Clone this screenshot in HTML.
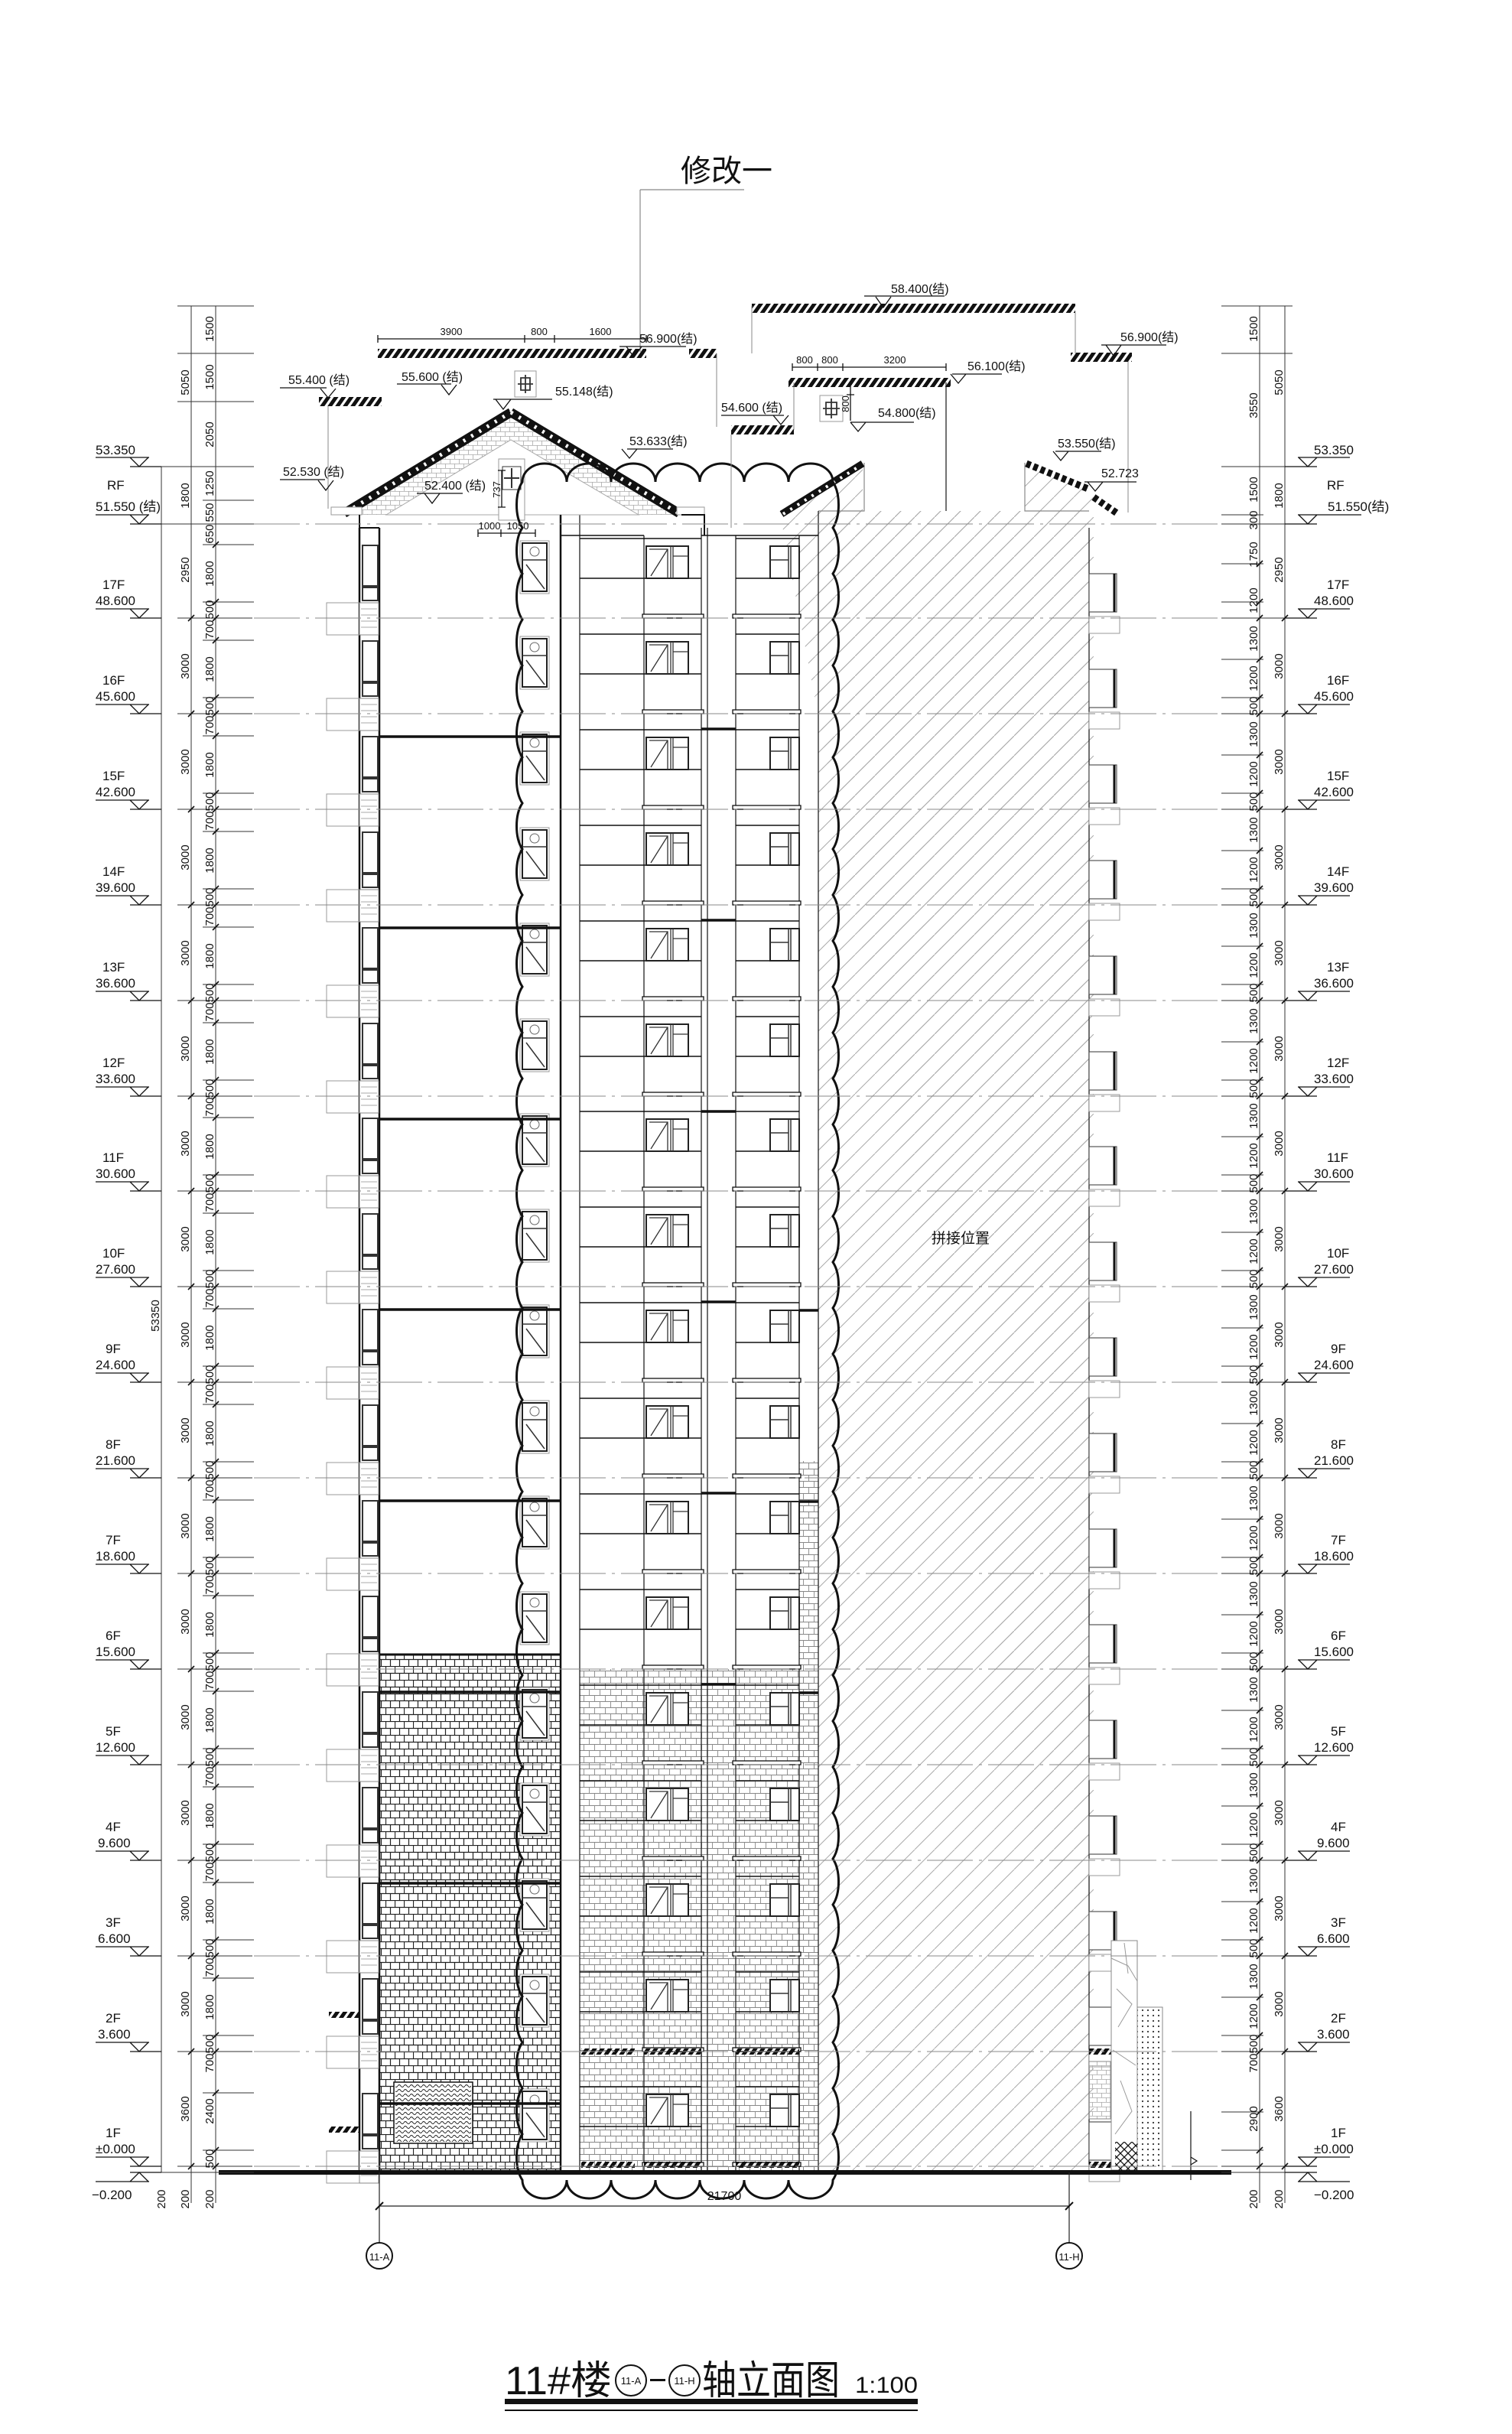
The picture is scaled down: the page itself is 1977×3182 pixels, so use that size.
<!DOCTYPE html>
<html><head><meta charset="utf-8">
<style>
html,body{margin:0;padding:0;background:#fff;}
svg{display:block;}
text{font-family:"Liberation Sans","Noto Sans CJK SC",sans-serif;fill:#111;}
.d{font-size:15px;text-anchor:middle;}
.lv{font-size:17px;}
.lvr{font-size:17px;}
</style></head>
<body>
<svg xmlns="http://www.w3.org/2000/svg" xmlns:xlink="http://www.w3.org/1999/xlink" width="1977" height="3182" viewBox="0 0 1977 3182">
<defs>
<pattern id="hatch" width="26" height="26" patternUnits="userSpaceOnUse"><path d="M0,26 L26,0" stroke="#aaa" stroke-width="1"/></pattern>
<pattern id="brk" width="12" height="18" patternUnits="userSpaceOnUse"><path d="M0,0.5H12M0,9.5H12M0.5,0V9M6.5,9V18" stroke="#222" stroke-width="1.2" fill="none"/></pattern>
<pattern id="brk2" width="14" height="16" patternUnits="userSpaceOnUse"><path d="M0,0.5H14M0,8.5H14M0.5,0V8M7.5,8V16" stroke="#888" stroke-width="0.9" fill="none"/></pattern>
<pattern id="brk3" width="12" height="12" patternUnits="userSpaceOnUse"><path d="M0,0.5H12M0,6.5H12M0.5,0V6M6.5,6V12" stroke="#aaa" stroke-width="0.8" fill="none"/></pattern>
<pattern id="hb" width="10" height="12" patternUnits="userSpaceOnUse" patternTransform="skewX(-35)"><rect width="6" height="12" fill="#111"/></pattern>
<pattern id="dots" width="7" height="7" patternUnits="userSpaceOnUse"><circle cx="3" cy="3" r="1.1" fill="#333"/></pattern>
<pattern id="wav" width="8" height="6" patternUnits="userSpaceOnUse"><path d="M0,3 Q2,0 4,3 T8,3" stroke="#222" fill="none" stroke-width="1"/></pattern>
<pattern id="xx" width="10" height="10" patternUnits="userSpaceOnUse"><path d="M0,0L10,10M10,0L0,10" stroke="#111" stroke-width="1.3"/></pattern>
<g id="fl">
  <rect x="427" y="-20" width="43" height="42" fill="none" stroke="#999" stroke-width="1"/>
  <rect x="470" y="-20" width="25" height="42" fill="#fff" stroke="#888" stroke-width="1"/>
  <path d="M472,-12H493M472,-4H493M472,4H493M472,12H493" stroke="#aaa" stroke-width="1"/>
  <rect x="474" y="-95" width="20" height="53" fill="#fff" stroke="#333" stroke-width="2"/>
  <rect x="474" y="-40" width="20" height="17" fill="#fff" stroke="#333" stroke-width="2"/>
  <rect x="680" y="-101" width="38" height="69" fill="#fff" stroke="#999" stroke-width="1"/>
  <rect x="683" y="-98" width="32" height="63" fill="#fff" stroke="#222" stroke-width="2"/>
  <path d="M683,-76H715M688,-70L712,-38" stroke="#333" stroke-width="1.5"/>
  <circle cx="699" cy="-87" r="6" fill="none" stroke="#666"/>
  <path d="M758,-104H917M758,-52H917M962,-104H1045M962,-52H1045" stroke="#111" stroke-width="1.5"/>
  <rect x="840" y="-5" width="80" height="5" fill="#fff" stroke="#111" stroke-width="1.3"/>
  <rect x="958" y="-5" width="89" height="5" fill="#fff" stroke="#111" stroke-width="1.3"/>
  <rect x="845" y="-94" width="55" height="42" fill="#fff" stroke="#222" stroke-width="2"/>
  <path d="M877,-94V-52M880,-94V-52M880,-81H900M849,-90H873V-52M873,-90L851,-55" stroke="#333" stroke-width="1.3" fill="none"/>
  <rect x="1007" y="-94" width="38" height="42" fill="#fff" stroke="#222" stroke-width="2"/>
  <path d="M1031,-94V-52M1034,-94V-52M1007,-76H1031" stroke="#333" stroke-width="1.5"/>
  <rect x="1424" y="-58" width="36" height="50" fill="#fff" stroke="#555" stroke-width="1.2"/>
  <path d="M1457,-58V-8" stroke="#111" stroke-width="3"/>
  <rect x="1424" y="-2" width="40" height="22" fill="#fff" stroke="#999" stroke-width="1"/>
</g>
<g id="tkL">
  <path d="M232,0H330M265,-21H332M265,-96H332" stroke="#333" stroke-width="1"/>
  <path d="M246,4L254,-4M278,4L286,-4M278,-17L286,-25M278,-92L286,-100" stroke="#111" stroke-width="1.6"/>
</g>
<g id="tkR">
  <path d="M1597,0H1690M1597,-21H1652M1597,-71H1652" stroke="#333" stroke-width="1"/>
  <path d="M1643,4L1651,-4M1676,4L1684,-4M1643,-17L1651,-25M1643,-67L1651,-75" stroke="#111" stroke-width="1.6"/>
</g>
</defs>

<text x="890" y="237" style="font-size:40px">修改一</text>
<path d="M837,248H973M837,248V460" stroke="#888" stroke-width="1.2" fill="none"/>

<rect x="1070" y="668" width="354" height="2172" fill="url(#hatch)"/>
<path d="M1020,672L1128,605V668H1340V605L1430,640V2840" fill="url(#hatch)"/>
<path d="M1070,668H1130V605M1340,605V668H1424" stroke="#888" stroke-width="1.2" fill="none"/>
<path d="M1237,500V668" stroke="#444" stroke-width="1.5"/>
<path d="M1475,467V670" stroke="#888" stroke-width="1"/>
<line x1="1022" y1="672" x2="1128" y2="606" stroke="#111" stroke-width="9"/>
<line x1="1024" y1="672" x2="1126" y2="608" stroke="#fff" stroke-width="4" stroke-dasharray="3 8"/>
<line x1="1342" y1="606" x2="1425" y2="640" stroke="#111" stroke-width="9" stroke-dasharray="6 4"/>
<line x1="1430" y1="650" x2="1462" y2="672" stroke="#111" stroke-width="9" stroke-dasharray="6 4"/>
<text x="1256" y="1625" class="d" style="font-size:19px">拼接位置</text>

<rect x="496" y="2163" width="237" height="677" fill="url(#brk)"/>
<rect x="758" y="2182" width="312" height="658" fill="url(#brk2)"/>
<rect x="1045" y="1910" width="25" height="930" fill="url(#brk2)"/>
<rect x="515" y="2722" width="103" height="80" fill="#fff" stroke="#111" stroke-width="1.5"/>
<rect x="517" y="2724" width="99" height="76" fill="url(#wav)"/>
<path d="M496,2163H733" stroke="#111" stroke-width="3"/>

<path d="M470,690V2840M496,690V2840M733,673V2840" stroke="#111" stroke-width="2.5" fill="none"/>
<path d="M758,673V2840M842,700V2840M917,690V2840M925,690V2840M962,700V2840M1045,700V2840M1070,668V2840M1424,690V2840" stroke="#222" stroke-width="1.3" fill="none"/>
<path d="M733,700H842M917,700H1070" stroke="#111" stroke-width="1.5"/>

<use xlink:href="#fl" y="2832"/><use xlink:href="#fl" y="2682"/><use xlink:href="#fl" y="2557"/><use xlink:href="#fl" y="2432"/><use xlink:href="#fl" y="2307"/><use xlink:href="#fl" y="2182"/><use xlink:href="#fl" y="2057"/><use xlink:href="#fl" y="1932"/><use xlink:href="#fl" y="1807"/><use xlink:href="#fl" y="1682"/><use xlink:href="#fl" y="1557"/><use xlink:href="#fl" y="1433"/><use xlink:href="#fl" y="1308"/><use xlink:href="#fl" y="1183"/><use xlink:href="#fl" y="1058"/><use xlink:href="#fl" y="933"/><use xlink:href="#fl" y="808"/>

<path d="M496,963H733M496,1213H733M496,1463H733M496,1712H733M496,1962H733M496,2212H733M496,2462H733M496,2750H733M917,953H962M917,1203H962M917,1453H962M917,1702H962M917,1952H962M917,2202H962M1045,1713H1070M1045,1963H1070M1045,2213H1070" stroke="#111" stroke-width="3.5"/>
<rect x="760" y="2678" width="70" height="8" fill="url(#hb)"/><rect x="842" y="2678" width="75" height="8" fill="url(#hb)"/><rect x="962" y="2678" width="83" height="8" fill="url(#hb)"/>
<rect x="760" y="2826" width="70" height="8" fill="url(#hb)"/><rect x="842" y="2826" width="75" height="8" fill="url(#hb)"/><rect x="962" y="2826" width="83" height="8" fill="url(#hb)"/>
<rect x="430" y="2630" width="40" height="8" fill="url(#hb)"/><rect x="430" y="2780" width="40" height="8" fill="url(#hb)"/>

<rect x="1424" y="2678" width="36" height="8" fill="url(#hb)"/><rect x="1424" y="2826" width="36" height="8" fill="url(#hb)"/>
<rect x="1424" y="2695" width="28" height="75" fill="url(#brk3)" stroke="#888"/>
<rect x="1453" y="2537" width="34" height="300" fill="#fff" stroke="#888" stroke-width="1"/>
<path d="M1453,2560L1475,2570L1487,2590M1460,2600L1480,2620L1462,2650M1455,2680L1485,2700M1465,2720L1480,2760L1458,2790M1470,2540L1475,2580" stroke="#999" fill="none"/>
<rect x="1487" y="2624" width="33" height="214" fill="url(#dots)" stroke="#888"/>
<rect x="1458" y="2800" width="29" height="38" fill="url(#xx)"/>
<path d="M1557,2760V2850M1557,2830l8,-5l-8,-5" stroke="#111" stroke-width="1.2" fill="none"/>

<polygon points="447,673 668,537 891,673" fill="url(#brk3)"/>
<polygon points="505,673 668,575 835,673" fill="#fff" stroke="#aaa" stroke-width="1"/>
<line x1="450" y1="671" x2="668" y2="539" stroke="#111" stroke-width="12"/>
<line x1="668" y1="539" x2="888" y2="671" stroke="#111" stroke-width="12"/>
<line x1="452" y1="670" x2="668" y2="539" stroke="#fff" stroke-width="5" stroke-dasharray="3 9"/>
<line x1="668" y1="539" x2="886" y2="670" stroke="#fff" stroke-width="5" stroke-dasharray="3 9"/>
<rect x="433" y="663" width="40" height="10" fill="#fff" stroke="#999"/>
<rect x="885" y="663" width="36" height="10" fill="#fff" stroke="#999"/>
<path d="M470,673V690H496M733,673V700M891,673H921V700" stroke="#111" stroke-width="2" fill="none"/>
<rect x="652" y="600" width="34" height="80" fill="#fff" stroke="#999"/>
<rect x="657" y="610" width="24" height="30" fill="#fff" stroke="#333"/>
<path d="M669,612V638M659,625H679" stroke="#333" stroke-width="2"/>

<path d="M683,2850 c-10,-15 -10,-45 0,-60 c-10,-15 -10,-45 0,-60 c-10,-15 -10,-45 0,-60 c-10,-15 -10,-45 0,-60 c-10,-15 -10,-45 0,-60 c-10,-15 -10,-45 0,-60 c-10,-15 -10,-45 0,-60 c-10,-15 -10,-45 0,-60 c-10,-15 -10,-45 0,-60 c-10,-15 -10,-45 0,-60 c-10,-15 -10,-45 0,-60 c-10,-15 -10,-45 0,-60 c-10,-15 -10,-45 0,-60 c-10,-15 -10,-45 0,-60 c-10,-15 -10,-45 0,-60 c-10,-15 -10,-45 0,-60 c-10,-15 -10,-45 0,-60 c-10,-15 -10,-45 0,-60 c-10,-15 -10,-45 0,-60 c-10,-15 -10,-45 0,-60 c-10,-15 -10,-45 0,-60 c-10,-15 -10,-45 0,-60 c-10,-15 -10,-45 0,-60 c-10,-15 -10,-45 0,-60 c-10,-15 -10,-45 0,-60 c-10,-15 -10,-45 0,-60 c-10,-15 -10,-45 0,-60 c-10,-15 -10,-45 0,-60 c-10,-15 -10,-45 0,-60 c-10,-15 -10,-45 0,-60 c-10,-15 -10,-45 0,-60 c-10,-15 -10,-45 0,-60 c-10,-15 -10,-45 0,-60 c-10,-15 -10,-45 0,-60 c-10,-15 -10,-45 0,-60 c-10,-15 -10,-45 0,-60 c-10,-15 -10,-45 0,-60 a29,24 0 0 1 58,0 a29,24 0 0 1 58,0 a29,24 0 0 1 58,0 a29,24 0 0 1 58,0 a29,24 0 0 1 58,0 a29,24 0 0 1 58,0 a29,24 0 0 1 58,0 c10,15 10,45 0,60 c10,15 10,45 0,60 c10,15 10,45 0,60 c10,15 10,45 0,60 c10,15 10,45 0,60 c10,15 10,45 0,60 c10,15 10,45 0,60 c10,15 10,45 0,60 c10,15 10,45 0,60 c10,15 10,45 0,60 c10,15 10,45 0,60 c10,15 10,45 0,60 c10,15 10,45 0,60 c10,15 10,45 0,60 c10,15 10,45 0,60 c10,15 10,45 0,60 c10,15 10,45 0,60 c10,15 10,45 0,60 c10,15 10,45 0,60 c10,15 10,45 0,60 c10,15 10,45 0,60 c10,15 10,45 0,60 c10,15 10,45 0,60 c10,15 10,45 0,60 c10,15 10,45 0,60 c10,15 10,45 0,60 c10,15 10,45 0,60 c10,15 10,45 0,60 c10,15 10,45 0,60 c10,15 10,45 0,60 c10,15 10,45 0,60 c10,15 10,45 0,60 c10,15 10,45 0,60 c10,15 10,45 0,60 c10,15 10,45 0,60 c10,15 10,45 0,60 c10,15 10,45 0,60 a29,24 0 0 1 -58,0 a29,24 0 0 1 -58,0 a29,24 0 0 1 -58,0 a29,24 0 0 1 -58,0 a29,24 0 0 1 -58,0 a29,24 0 0 1 -58,0 a29,24 0 0 1 -58,0 z" fill="none" stroke="#111" stroke-width="3"/>

<rect x="286" y="2837" width="1324" height="6" fill="#111"/>

<g stroke="#888" stroke-width="1" stroke-dasharray="60 8 4 8">
<path d="M332,2832H1597M332,2682H1597M332,2557H1597M332,2432H1597M332,2307H1597M332,2182H1597M332,2057H1597M332,1932H1597M332,1807H1597M332,1682H1597M332,1557H1597M332,1433H1597M332,1308H1597M332,1183H1597M332,1058H1597M332,933H1597M332,808H1597M332,685H1597"/>
</g>

<rect x="983" y="397" width="423" height="12" fill="url(#hb)"/>
<rect x="494" y="456" width="351" height="12" fill="url(#hb)"/>
<rect x="1400" y="461" width="80" height="12" fill="url(#hb)"/>
<rect x="901" y="456" width="36" height="12" fill="url(#hb)"/>
<rect x="1031" y="494" width="212" height="12" fill="url(#hb)"/>
<rect x="417" y="519" width="82" height="12" fill="url(#hb)"/>
<rect x="956" y="556" width="82" height="12" fill="url(#hb)"/>
<path d="M983,400V462M1406,409V462M1038,562V500M937,462V558M429,531V665M1475,473V670M956,568V690" stroke="#888" stroke-width="1" fill="none"/>
<rect x="673" y="485" width="28" height="34" fill="#fff" stroke="#999"/>
<path d="M687,490V514M677,502H697M681,494H693V510H681Z" stroke="#333" stroke-width="1.8" fill="none"/>
<rect x="1072" y="517" width="30" height="34" fill="#fff" stroke="#999"/>
<path d="M1087,521V547M1076,534H1098M1080,526H1094V542H1080Z" stroke="#333" stroke-width="1.8" fill="none"/>

<g stroke="#111" stroke-width="1.3" fill="none">
<path d="M1130,387H1235M1145,388l10,14l10,-14"/>
<path d="M810,453H897M819,453l10,14l10,-14"/>
<path d="M1440,451H1525M1446,451l10,14l10,-14"/>
<path d="M1245,489H1310M1243,489l10,12l10,-12"/>
<path d="M1112,552H1195M1112,552l10,12l10,-12"/>
<path d="M366,507H427M419,508l10,12l10,-12"/>
<path d="M519,502H590M577,503l10,13l10,-13"/>
<path d="M645,522H722M648,522l10,13l10,-13"/>
<path d="M943,543H1025M1011,543l10,12l10,-12"/>
<path d="M820,587H880M813,587l10,12l10,-12"/>
<path d="M1380,590H1440M1377,590l10,12l10,-12"/>
<path d="M1418,630H1486M1422,630l10,12l10,-12"/>
<path d="M366,627H425M416,628l10,13l10,-13"/>
<path d="M545,645H605M555,645l10,13l10,-13"/>
<path d="M494,443H845M494,438V448M686,438V448M725,438V448M845,438V448"/>
<path d="M1036,480H1237M1036,475V485M1069,475V485M1102,475V485M1237,475V485"/>
<path d="M1112,505V550M1107,516H1117"/>
<path d="M656,615V663M651,615H661M651,663H661"/>
<path d="M625,697H700M625,692V702M655,692V702M700,692V702"/>
</g>
<g class="lv" style="font-size:16px">
<text x="1165" y="383">58.400(结)</text>
<text x="836" y="448">56.900(结)</text>
<text x="1465" y="446">56.900(结)</text>
<text x="1265" y="484">56.100(结)</text>
<text x="1148" y="545">54.800(结)</text>
<text x="377" y="502">55.400 (结)</text>
<text x="525" y="498">55.600 (结)</text>
<text x="726" y="517">55.148(结)</text>
<text x="943" y="538">54.600 (结)</text>
<text x="823" y="582">53.633(结)</text>
<text x="1383" y="585">53.550(结)</text>
<text x="1440" y="624">52.723</text>
<text x="370" y="622">52.530 (结)</text>
<text x="555" y="640">52.400 (结)</text>
</g>
<g class="d" style="font-size:13px">
<text x="590" y="438">3900</text><text x="705" y="438">800</text><text x="785" y="438">1600</text>
<text x="1052" y="475">800</text><text x="1085" y="475">800</text><text x="1170" y="475">3200</text>
<text x="640" y="692">1000</text><text x="677" y="692">1050</text>
<text transform="translate(1110,528)rotate(-90)">800</text>
<text transform="translate(654,640)rotate(-90)">737</text>
</g>

<path d="M211,610V2840M250,400V2880M282,400V2880" stroke="#333" stroke-width="1" fill="none"/>
<path d="M1647,400V2880M1680,400V2880" stroke="#333" stroke-width="1" fill="none"/>
<use xlink:href="#tkL" y="2832"/><use xlink:href="#tkL" y="2682"/><use xlink:href="#tkL" y="2557"/><use xlink:href="#tkL" y="2432"/><use xlink:href="#tkL" y="2307"/><use xlink:href="#tkL" y="2182"/><use xlink:href="#tkL" y="2057"/><use xlink:href="#tkL" y="1932"/><use xlink:href="#tkL" y="1807"/><use xlink:href="#tkL" y="1682"/><use xlink:href="#tkL" y="1557"/><use xlink:href="#tkL" y="1433"/><use xlink:href="#tkL" y="1308"/><use xlink:href="#tkL" y="1183"/><use xlink:href="#tkL" y="1058"/><use xlink:href="#tkL" y="933"/><use xlink:href="#tkL" y="808"/>
<use xlink:href="#tkR" y="2832"/><use xlink:href="#tkR" y="2682"/><use xlink:href="#tkR" y="2557"/><use xlink:href="#tkR" y="2432"/><use xlink:href="#tkR" y="2307"/><use xlink:href="#tkR" y="2182"/><use xlink:href="#tkR" y="2057"/><use xlink:href="#tkR" y="1932"/><use xlink:href="#tkR" y="1807"/><use xlink:href="#tkR" y="1682"/><use xlink:href="#tkR" y="1557"/><use xlink:href="#tkR" y="1433"/><use xlink:href="#tkR" y="1308"/><use xlink:href="#tkR" y="1183"/><use xlink:href="#tkR" y="1058"/><use xlink:href="#tkR" y="933"/><use xlink:href="#tkR" y="808"/>
<path d="M200,685H332M200,610H332M232,400H332M232,462H332M232,525H332M265,654H332M1597,685H1690M1597,610H1690M1597,400H1690M1597,462H1690M1597,673H1652M1597,2840H1690M200,2840H332" stroke="#333" stroke-width="1"/>

<g class="d">
<text transform="translate(208,1720)rotate(-90)">53350</text>
<text transform="translate(247,500)rotate(-90)">5050</text>
<text transform="translate(247,648)rotate(-90)">1800</text>
<text transform="translate(247,745)rotate(-90)">2950</text>
<text transform="translate(279,430)rotate(-90)">1500</text>
<text transform="translate(279,493)rotate(-90)">1500</text>
<text transform="translate(279,568)rotate(-90)">2050</text>
<text transform="translate(279,632)rotate(-90)">1250</text>
<text transform="translate(279,670)rotate(-90)">550</text>
<text transform="translate(279,698)rotate(-90)">650</text>
<text transform="translate(279,750)rotate(-90)">1800</text>
<text transform="translate(279,797)rotate(-90)">500</text>
<text transform="translate(247,2757)rotate(-90)">3600</text>
<text transform="translate(279,2822)rotate(-90)">500</text>
<text transform="translate(279,2760)rotate(-90)">2400</text>
<text transform="translate(279,2697)rotate(-90)">700</text>
<text transform="translate(216,2875)rotate(-90)">200</text>
<text transform="translate(247,2875)rotate(-90)">200</text>
<text transform="translate(279,2875)rotate(-90)">200</text>
<text transform="translate(1677,500)rotate(-90)">5050</text>
<text transform="translate(1644,430)rotate(-90)">1500</text>
<text transform="translate(1644,530)rotate(-90)">3550</text>
<text transform="translate(1677,648)rotate(-90)">1800</text>
<text transform="translate(1644,640)rotate(-90)">1500</text>
<text transform="translate(1644,680)rotate(-90)">300</text>
<text transform="translate(1677,745)rotate(-90)">2950</text>
<text transform="translate(1644,725)rotate(-90)">1750</text>
<text transform="translate(1644,785)rotate(-90)">1200</text>
<text transform="translate(1677,2757)rotate(-90)">3600</text>
<text transform="translate(1644,2697)rotate(-90)">700</text>
<text transform="translate(1644,2770)rotate(-90)">2900</text>
<text transform="translate(1644,2875)rotate(-90)">200</text>
<text transform="translate(1677,2875)rotate(-90)">200</text>
</g>
<g class="d">
<text transform="translate(247,2620)rotate(-90)">3000</text><text transform="translate(279,2672)rotate(-90)">500</text><text transform="translate(279,2624)rotate(-90)">1800</text><text transform="translate(279,2572)rotate(-90)">700</text>
<text transform="translate(247,2495)rotate(-90)">3000</text><text transform="translate(279,2547)rotate(-90)">500</text><text transform="translate(279,2499)rotate(-90)">1800</text><text transform="translate(279,2447)rotate(-90)">700</text>
<text transform="translate(247,2370)rotate(-90)">3000</text><text transform="translate(279,2422)rotate(-90)">500</text><text transform="translate(279,2374)rotate(-90)">1800</text><text transform="translate(279,2322)rotate(-90)">700</text>
<text transform="translate(247,2245)rotate(-90)">3000</text><text transform="translate(279,2297)rotate(-90)">500</text><text transform="translate(279,2249)rotate(-90)">1800</text><text transform="translate(279,2197)rotate(-90)">700</text>
<text transform="translate(247,2120)rotate(-90)">3000</text><text transform="translate(279,2172)rotate(-90)">500</text><text transform="translate(279,2124)rotate(-90)">1800</text><text transform="translate(279,2072)rotate(-90)">700</text>
<text transform="translate(247,1995)rotate(-90)">3000</text><text transform="translate(279,2047)rotate(-90)">500</text><text transform="translate(279,1999)rotate(-90)">1800</text><text transform="translate(279,1947)rotate(-90)">700</text>
<text transform="translate(247,1870)rotate(-90)">3000</text><text transform="translate(279,1922)rotate(-90)">500</text><text transform="translate(279,1874)rotate(-90)">1800</text><text transform="translate(279,1822)rotate(-90)">700</text>
<text transform="translate(247,1745)rotate(-90)">3000</text><text transform="translate(279,1797)rotate(-90)">500</text><text transform="translate(279,1749)rotate(-90)">1800</text><text transform="translate(279,1697)rotate(-90)">700</text>
<text transform="translate(247,1620)rotate(-90)">3000</text><text transform="translate(279,1672)rotate(-90)">500</text><text transform="translate(279,1624)rotate(-90)">1800</text><text transform="translate(279,1572)rotate(-90)">700</text>
<text transform="translate(247,1495)rotate(-90)">3000</text><text transform="translate(279,1547)rotate(-90)">500</text><text transform="translate(279,1499)rotate(-90)">1800</text><text transform="translate(279,1447)rotate(-90)">700</text>
<text transform="translate(247,1371)rotate(-90)">3000</text><text transform="translate(279,1423)rotate(-90)">500</text><text transform="translate(279,1375)rotate(-90)">1800</text><text transform="translate(279,1323)rotate(-90)">700</text>
<text transform="translate(247,1246)rotate(-90)">3000</text><text transform="translate(279,1298)rotate(-90)">500</text><text transform="translate(279,1250)rotate(-90)">1800</text><text transform="translate(279,1198)rotate(-90)">700</text>
<text transform="translate(247,1121)rotate(-90)">3000</text><text transform="translate(279,1173)rotate(-90)">500</text><text transform="translate(279,1125)rotate(-90)">1800</text><text transform="translate(279,1073)rotate(-90)">700</text>
<text transform="translate(247,996)rotate(-90)">3000</text><text transform="translate(279,1048)rotate(-90)">500</text><text transform="translate(279,1000)rotate(-90)">1800</text><text transform="translate(279,948)rotate(-90)">700</text>
<text transform="translate(247,871)rotate(-90)">3000</text><text transform="translate(279,923)rotate(-90)">500</text><text transform="translate(279,875)rotate(-90)">1800</text><text transform="translate(279,823)rotate(-90)">700</text>
</g>
<g class="d">
<text transform="translate(1677,2620)rotate(-90)">3000</text><text transform="translate(1644,2672)rotate(-90)">500</text><text transform="translate(1644,2636)rotate(-90)">1200</text><text transform="translate(1644,2584)rotate(-90)">1300</text>
<text transform="translate(1677,2495)rotate(-90)">3000</text><text transform="translate(1644,2547)rotate(-90)">500</text><text transform="translate(1644,2511)rotate(-90)">1200</text><text transform="translate(1644,2459)rotate(-90)">1300</text>
<text transform="translate(1677,2370)rotate(-90)">3000</text><text transform="translate(1644,2422)rotate(-90)">500</text><text transform="translate(1644,2386)rotate(-90)">1200</text><text transform="translate(1644,2334)rotate(-90)">1300</text>
<text transform="translate(1677,2245)rotate(-90)">3000</text><text transform="translate(1644,2297)rotate(-90)">500</text><text transform="translate(1644,2261)rotate(-90)">1200</text><text transform="translate(1644,2209)rotate(-90)">1300</text>
<text transform="translate(1677,2120)rotate(-90)">3000</text><text transform="translate(1644,2172)rotate(-90)">500</text><text transform="translate(1644,2136)rotate(-90)">1200</text><text transform="translate(1644,2084)rotate(-90)">1300</text>
<text transform="translate(1677,1995)rotate(-90)">3000</text><text transform="translate(1644,2047)rotate(-90)">500</text><text transform="translate(1644,2011)rotate(-90)">1200</text><text transform="translate(1644,1959)rotate(-90)">1300</text>
<text transform="translate(1677,1870)rotate(-90)">3000</text><text transform="translate(1644,1922)rotate(-90)">500</text><text transform="translate(1644,1886)rotate(-90)">1200</text><text transform="translate(1644,1834)rotate(-90)">1300</text>
<text transform="translate(1677,1745)rotate(-90)">3000</text><text transform="translate(1644,1797)rotate(-90)">500</text><text transform="translate(1644,1761)rotate(-90)">1200</text><text transform="translate(1644,1709)rotate(-90)">1300</text>
<text transform="translate(1677,1620)rotate(-90)">3000</text><text transform="translate(1644,1672)rotate(-90)">500</text><text transform="translate(1644,1636)rotate(-90)">1200</text><text transform="translate(1644,1584)rotate(-90)">1300</text>
<text transform="translate(1677,1495)rotate(-90)">3000</text><text transform="translate(1644,1547)rotate(-90)">500</text><text transform="translate(1644,1511)rotate(-90)">1200</text><text transform="translate(1644,1459)rotate(-90)">1300</text>
<text transform="translate(1677,1371)rotate(-90)">3000</text><text transform="translate(1644,1423)rotate(-90)">500</text><text transform="translate(1644,1387)rotate(-90)">1200</text><text transform="translate(1644,1335)rotate(-90)">1300</text>
<text transform="translate(1677,1246)rotate(-90)">3000</text><text transform="translate(1644,1298)rotate(-90)">500</text><text transform="translate(1644,1262)rotate(-90)">1200</text><text transform="translate(1644,1210)rotate(-90)">1300</text>
<text transform="translate(1677,1121)rotate(-90)">3000</text><text transform="translate(1644,1173)rotate(-90)">500</text><text transform="translate(1644,1137)rotate(-90)">1200</text><text transform="translate(1644,1085)rotate(-90)">1300</text>
<text transform="translate(1677,996)rotate(-90)">3000</text><text transform="translate(1644,1048)rotate(-90)">500</text><text transform="translate(1644,1012)rotate(-90)">1200</text><text transform="translate(1644,960)rotate(-90)">1300</text>
<text transform="translate(1677,871)rotate(-90)">3000</text><text transform="translate(1644,923)rotate(-90)">500</text><text transform="translate(1644,887)rotate(-90)">1200</text><text transform="translate(1644,835)rotate(-90)">1300</text>
</g>

<g stroke="#111" stroke-width="1.3" fill="none">
<path d="M125,598H195M170,598l12,12l12,-12M170,610H211"/>
<path d="M125,673H195M170,673l12,12l12,-12M170,685H211"/>
<path d="M125,796H195M170,796l12,12l12,-12M170,808H211"/>
<path d="M125,921H195M170,921l12,12l12,-12M170,933H211"/>
<path d="M125,1046H195M170,1046l12,12l12,-12M170,1058H211"/>
<path d="M125,1171H195M170,1171l12,12l12,-12M170,1183H211"/>
<path d="M125,1296H195M170,1296l12,12l12,-12M170,1308H211"/>
<path d="M125,1421H195M170,1421l12,12l12,-12M170,1433H211"/>
<path d="M125,1545H195M170,1545l12,12l12,-12M170,1557H211"/>
<path d="M125,1670H195M170,1670l12,12l12,-12M170,1682H211"/>
<path d="M125,1795H195M170,1795l12,12l12,-12M170,1807H211"/>
<path d="M125,1920H195M170,1920l12,12l12,-12M170,1932H211"/>
<path d="M125,2045H195M170,2045l12,12l12,-12M170,2057H211"/>
<path d="M125,2170H195M170,2170l12,12l12,-12M170,2182H211"/>
<path d="M125,2295H195M170,2295l12,12l12,-12M170,2307H211"/>
<path d="M125,2420H195M170,2420l12,12l12,-12M170,2432H211"/>
<path d="M125,2545H195M170,2545l12,12l12,-12M170,2557H211"/>
<path d="M125,2670H195M170,2670l12,12l12,-12M170,2682H211"/>
<path d="M125,2820H195M170,2820l12,12l12,-12M170,2832H211"/>
<path d="M125,2852H195M170,2852l12,-12l12,12M170,2840H211"/>
</g>
<g class="lv">
<text x="125" y="594">53.350</text>
<text x="140" y="640">RF</text><text x="125" y="668">51.550 (结)</text>
<text x="134" y="770">17F</text><text x="125" y="791">48.600</text>
<text x="134" y="895">16F</text><text x="125" y="916">45.600</text>
<text x="134" y="1020">15F</text><text x="125" y="1041">42.600</text>
<text x="134" y="1145">14F</text><text x="125" y="1166">39.600</text>
<text x="134" y="1270">13F</text><text x="125" y="1291">36.600</text>
<text x="134" y="1395">12F</text><text x="125" y="1416">33.600</text>
<text x="134" y="1519">11F</text><text x="125" y="1540">30.600</text>
<text x="134" y="1644">10F</text><text x="125" y="1665">27.600</text>
<text x="138" y="1769">9F</text><text x="125" y="1790">24.600</text>
<text x="138" y="1894">8F</text><text x="125" y="1915">21.600</text>
<text x="138" y="2019">7F</text><text x="125" y="2040">18.600</text>
<text x="138" y="2144">6F</text><text x="125" y="2165">15.600</text>
<text x="138" y="2269">5F</text><text x="125" y="2290">12.600</text>
<text x="138" y="2394">4F</text><text x="128" y="2415">9.600</text>
<text x="138" y="2519">3F</text><text x="128" y="2540">6.600</text>
<text x="138" y="2644">2F</text><text x="128" y="2665">3.600</text>
<text x="138" y="2794">1F</text><text x="125" y="2815">±0.000</text>
<text x="120" y="2875">−0.200</text>
</g>

<g stroke="#111" stroke-width="1.3" fill="none">
<path d="M1697,598H1765M1698,598l12,12l12,-12M1680,610H1722"/>
<path d="M1697,673H1780M1698,673l12,12l12,-12M1680,685H1722"/>
<path d="M1697,796H1765M1698,796l12,12l12,-12M1680,808H1722"/>
<path d="M1697,921H1765M1698,921l12,12l12,-12M1680,933H1722"/>
<path d="M1697,1046H1765M1698,1046l12,12l12,-12M1680,1058H1722"/>
<path d="M1697,1171H1765M1698,1171l12,12l12,-12M1680,1183H1722"/>
<path d="M1697,1296H1765M1698,1296l12,12l12,-12M1680,1308H1722"/>
<path d="M1697,1421H1765M1698,1421l12,12l12,-12M1680,1433H1722"/>
<path d="M1697,1545H1765M1698,1545l12,12l12,-12M1680,1557H1722"/>
<path d="M1697,1670H1765M1698,1670l12,12l12,-12M1680,1682H1722"/>
<path d="M1697,1795H1765M1698,1795l12,12l12,-12M1680,1807H1722"/>
<path d="M1697,1920H1765M1698,1920l12,12l12,-12M1680,1932H1722"/>
<path d="M1697,2045H1765M1698,2045l12,12l12,-12M1680,2057H1722"/>
<path d="M1697,2170H1765M1698,2170l12,12l12,-12M1680,2182H1722"/>
<path d="M1697,2295H1765M1698,2295l12,12l12,-12M1680,2307H1722"/>
<path d="M1697,2420H1765M1698,2420l12,12l12,-12M1680,2432H1722"/>
<path d="M1697,2545H1765M1698,2545l12,12l12,-12M1680,2557H1722"/>
<path d="M1697,2670H1765M1698,2670l12,12l12,-12M1680,2682H1722"/>
<path d="M1697,2820H1765M1698,2820l12,12l12,-12M1680,2832H1722"/>
<path d="M1697,2852H1765M1698,2852l12,-12l12,12M1680,2840H1722"/>
</g>
<g class="lvr">
<text x="1718" y="594">53.350</text>
<text x="1735" y="640">RF</text><text x="1736" y="668">51.550(结)</text>
<text x="1735" y="770">17F</text><text x="1718" y="791">48.600</text>
<text x="1735" y="895">16F</text><text x="1718" y="916">45.600</text>
<text x="1735" y="1020">15F</text><text x="1718" y="1041">42.600</text>
<text x="1735" y="1145">14F</text><text x="1718" y="1166">39.600</text>
<text x="1735" y="1270">13F</text><text x="1718" y="1291">36.600</text>
<text x="1735" y="1395">12F</text><text x="1718" y="1416">33.600</text>
<text x="1735" y="1519">11F</text><text x="1718" y="1540">30.600</text>
<text x="1735" y="1644">10F</text><text x="1718" y="1665">27.600</text>
<text x="1740" y="1769">9F</text><text x="1718" y="1790">24.600</text>
<text x="1740" y="1894">8F</text><text x="1718" y="1915">21.600</text>
<text x="1740" y="2019">7F</text><text x="1718" y="2040">18.600</text>
<text x="1740" y="2144">6F</text><text x="1718" y="2165">15.600</text>
<text x="1740" y="2269">5F</text><text x="1718" y="2290">12.600</text>
<text x="1740" y="2394">4F</text><text x="1722" y="2415">9.600</text>
<text x="1740" y="2519">3F</text><text x="1722" y="2540">6.600</text>
<text x="1740" y="2644">2F</text><text x="1722" y="2665">3.600</text>
<text x="1740" y="2794">1F</text><text x="1718" y="2815">±0.000</text>
<text x="1718" y="2875">−0.200</text>
</g>

<path d="M496,2840V2932M1398,2840V2932M496,2884H1398" stroke="#222" stroke-width="1.2"/>
<path d="M491,2889L501,2879M1393,2889L1403,2879" stroke="#111" stroke-width="2"/>
<text x="947" y="2876" class="d" style="font-size:16px">21700</text>
<circle cx="496" cy="2949" r="17" fill="#fff" stroke="#111" stroke-width="2"/>
<text x="496" y="2955" class="d" style="font-size:13px">11-A</text>
<circle cx="1398" cy="2949" r="17" fill="#fff" stroke="#111" stroke-width="2"/>
<text x="1398" y="2955" class="d" style="font-size:13px">11-H</text>

<text x="660" y="3130" style="font-size:52px" textLength="140" lengthAdjust="spacingAndGlyphs">11#楼</text>
<circle cx="825" cy="3112" r="20" fill="none" stroke="#111" stroke-width="2"/>
<text x="825" y="3117" class="d" style="font-size:13px">11-A</text>
<rect x="850" y="3110" width="20" height="3" fill="#111"/>
<circle cx="895" cy="3112" r="20" fill="none" stroke="#111" stroke-width="2"/>
<text x="895" y="3117" class="d" style="font-size:13px">11-H</text>
<text x="918" y="3130" style="font-size:52px" textLength="180" lengthAdjust="spacingAndGlyphs">轴立面图</text>
<text x="1118" y="3128" style="font-size:30px" textLength="82" lengthAdjust="spacingAndGlyphs">1:100</text>
<rect x="660" y="3136" width="540" height="7" fill="#111"/>
<rect x="660" y="3150" width="540" height="2" fill="#111"/>
</svg>
</body></html>
